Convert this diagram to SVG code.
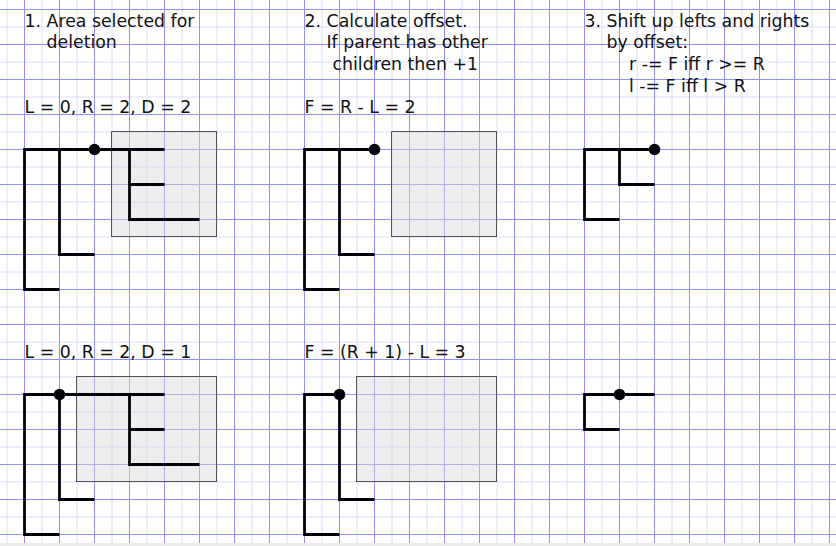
<svg xmlns="http://www.w3.org/2000/svg" width="836" height="546" viewBox="0 0 836 546">
<style>
.minor{stroke:#dcdcff;stroke-width:1;fill:none}
.major{stroke:#9090ff;stroke-width:1;fill:none}
.sel{fill:#d6d6d6;fill-opacity:0.45;stroke:#555;stroke-width:1}
.tree{fill:none;stroke:#000008;stroke-width:2.8;stroke-linejoin:miter;stroke-linecap:butt}
.dot{fill:#000008}
text{font-family:"DejaVu Sans","Liberation Sans",sans-serif;font-size:17.33px;fill:#111}
</style>
<rect width="836" height="546" fill="#fff"/>
<g id="grid">
<path class="minor" d="M7,0V546M42,0V546M77,0V546M112,0V546M147,0V546M182,0V546M217,0V546M252,0V546M287,0V546M322,0V546M357,0V546M392,0V546M427,0V546M462,0V546M497,0V546M532,0V546M567,0V546M602,0V546M637,0V546M672,0V546M707,0V546M742,0V546M777,0V546M812,0V546M0,27H836M0,62H836M0,97H836M0,132H836M0,167H836M0,202H836M0,237H836M0,272H836M0,307H836M0,342H836M0,377H836M0,412H836M0,447H836M0,482H836M0,517H836"/>
<path class="major" d="M24.5,0V546M59.5,0V546M94.5,0V546M129.5,0V546M164.5,0V546M199.5,0V546M234.5,0V546M269.5,0V546M304.5,0V546M339.5,0V546M374.5,0V546M409.5,0V546M444.5,0V546M479.5,0V546M514.5,0V546M549.5,0V546M584.5,0V546M619.5,0V546M654.5,0V546M689.5,0V546M724.5,0V546M759.5,0V546M794.5,0V546M829.5,0V546M0,9.5H836M0,44.5H836M0,79.5H836M0,114.5H836M0,149.5H836M0,184.5H836M0,219.5H836M0,254.5H836M0,289.5H836M0,324.5H836M0,359.5H836M0,394.5H836M0,429.5H836M0,464.5H836M0,499.5H836M0,534.5H836"/>
</g>
<g id="step1-heading">
<text x="24.5" y="26.7">1. Area selected for</text>
<text x="46.5" y="48.3">deletion</text>
</g>
<g id="step2-heading">
<text x="304.5" y="26.7">2. Calculate offset.</text>
<text x="326.5" y="48.3">If parent has other</text>
<text x="332.5" y="70">children then +1</text>
</g>
<g id="step3-heading">
<text x="584.5" y="26.7">3. Shift up lefts and rights</text>
<text x="606.5" y="48">by offset:</text>
<text x="629" y="70">r -= F iff r &gt;= R</text>
<text x="629" y="91.7">l -= F iff l &gt; R</text>
</g>
<g id="top-left">
<text x="24.5" y="113.3">L = 0, R = 2, D = 2</text>
<rect class="sel" x="111.5" y="131.5" width="105" height="105"/>
<path class="tree" d="M164.5,149.5H24.5V289.5H59.5M59.5,149.5V254.5H94.5M129.5,149.5V219.5H199.5M129.5,184.5H164.5"/>
<circle class="dot" cx="94.5" cy="149.5" r="5.8"/>
</g>
<g id="top-middle">
<text x="304.5" y="113.3">F = R - L = 2</text>
<rect class="sel" x="391.5" y="131.5" width="105" height="105"/>
<path class="tree" d="M374.5,149.5H304.5V289.5H339.5M339.5,149.5V254.5H374.5"/>
<circle class="dot" cx="374.5" cy="149.5" r="5.8"/>
</g>
<g id="top-right">
<path class="tree" d="M654.5,149.5H584.5V219.5H619.5M619.5,149.5V184.5H654.5"/>
<circle class="dot" cx="654.5" cy="149.5" r="5.8"/>
</g>
<g id="bottom-left">
<text x="24.5" y="358.3">L = 0, R = 2, D = 1</text>
<rect class="sel" x="76.5" y="376.5" width="140" height="105"/>
<path class="tree" d="M164.5,394.5H24.5V534.5H59.5M59.5,394.5V499.5H94.5M129.5,394.5V464.5H199.5M129.5,429.5H164.5"/>
<circle class="dot" cx="59.5" cy="394.5" r="5.8"/>
</g>
<g id="bottom-middle">
<text x="304.5" y="358.3">F = (R + 1) - L = 3</text>
<rect class="sel" x="356.5" y="376.5" width="140" height="105"/>
<path class="tree" d="M339.5,394.5H304.5V534.5H339.5M339.5,394.5V499.5H374.5"/>
<circle class="dot" cx="339.5" cy="394.5" r="5.8"/>
</g>
<g id="bottom-right">
<path class="tree" d="M654.5,394.5H584.5V429.5H619.5"/>
<circle class="dot" cx="619.5" cy="394.5" r="5.8"/>
</g>
<g id="connectors"></g>
<rect x="0" y="543" width="836" height="3" fill="#ececec"/>
</svg>
